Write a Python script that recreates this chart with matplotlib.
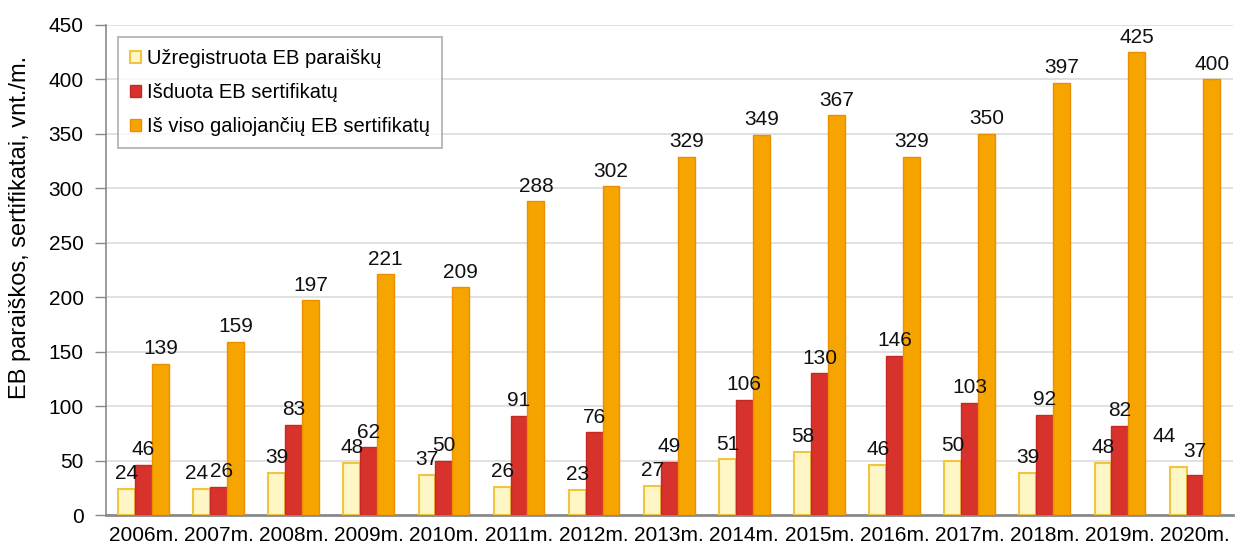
import matplotlib
matplotlib.use("Agg")
import matplotlib.pyplot as plt
import numpy as np

years = ["2006m.", "2007m.", "2008m.", "2009m.", "2010m.", "2011m.", "2012m.",
         "2013m.", "2014m.", "2015m.", "2016m.", "2017m.", "2018m.", "2019m.", "2020m."]
registered = [24, 24, 39, 48, 37, 26, 23, 27, 51, 58, 46, 50, 39, 48, 44]
issued = [46, 26, 83, 62, 50, 91, 76, 49, 106, 130, 146, 103, 92, 82, 37]
valid_total = [139, 159, 197, 221, 209, 288, 302, 329, 349, 367, 329, 350, 397, 425, 400]

series_names = ["Užregistruota EB paraiškų", "Išduota EB sertifikatų",
                "Iš viso galiojančių EB sertifikatų"]
yticks = [0, 50, 100, 150, 200, 250, 300, 350, 400, 450]
ylabel = "EB paraiškos, sertifikatai, vnt./m."

plt.rcParams['font.family'] = ['Liberation Sans', 'DejaVu Sans']

fig = plt.figure(figsize=(12.35, 5.48), dpi=100)
ax = fig.add_axes([0.0858, 0.0602, 0.9122, 0.8942])

x = np.arange(len(years))
w = 0.225
styles = [
    dict(color="#FFF6C6", edgecolor="#F0C640", linewidth=1.5),
    dict(color="#D8322C", edgecolor="#C42A22", linewidth=1.0),
    dict(color="#F6A400", edgecolor="#EC8E00", linewidth=1.0),
]
# label nudges (series index, category index) -> (dx, dy) in points
nudges = {(0, 14): (-10, 15), (1, 14): (0, 10), (0, 1): (-4, 4), (1, 1): (2, 4)}
data = [registered, issued, valid_total]
for k, (vals, st) in enumerate(zip(data, styles)):
    pos = x + (k - 1) * w
    ax.bar(pos, vals, w, label=series_names[k], zorder=3, **st)
    for i, (xi, v) in enumerate(zip(pos, vals)):
        dx, dy = nudges.get((k, i), (0, 4))
        ax.annotate(str(v), (xi, v), xytext=(dx, dy), textcoords="offset points",
                    ha="center", va="bottom", fontsize=15, color="#111111", zorder=5)

ax.set_xlim(-0.5, len(years) - 0.5)
ax.set_ylim(0, 450)
ax.set_yticks(yticks)
ax.set_xticks(x)
ax.set_xticklabels(years, fontsize=15)
ax.tick_params(axis="y", labelsize=15, length=8, color="#888888", width=1, pad=8)
ax.tick_params(axis="x", length=0, pad=8)
ax.yaxis.grid(True, color="#DCDCDC", linewidth=1.2, zorder=0)
ax.set_axisbelow(True)
for s in ["top", "right"]:
    ax.spines[s].set_visible(False)
ax.spines["left"].set_color("#8A8A8A")
ax.spines["left"].set_linewidth(1.2)
ax.spines["bottom"].set_color("#8A8A8A")
ax.spines["bottom"].set_linewidth(2)
ax.set_ylabel(ylabel, fontsize=17)
ax.yaxis.set_label_coords(-0.0665, 0.586)

leg = ax.legend(loc="upper left", bbox_to_anchor=(0.0106, 0.9755), fontsize=14.5,
                frameon=True, fancybox=False, edgecolor="#9A9A9A", handlelength=0.55,
                handleheight=0.55, handletextpad=0.3, borderpad=0.6, labelspacing=0.75,
                borderaxespad=0)
leg.get_frame().set_linewidth(1.2)

fig.savefig("out.png", dpi=100)
